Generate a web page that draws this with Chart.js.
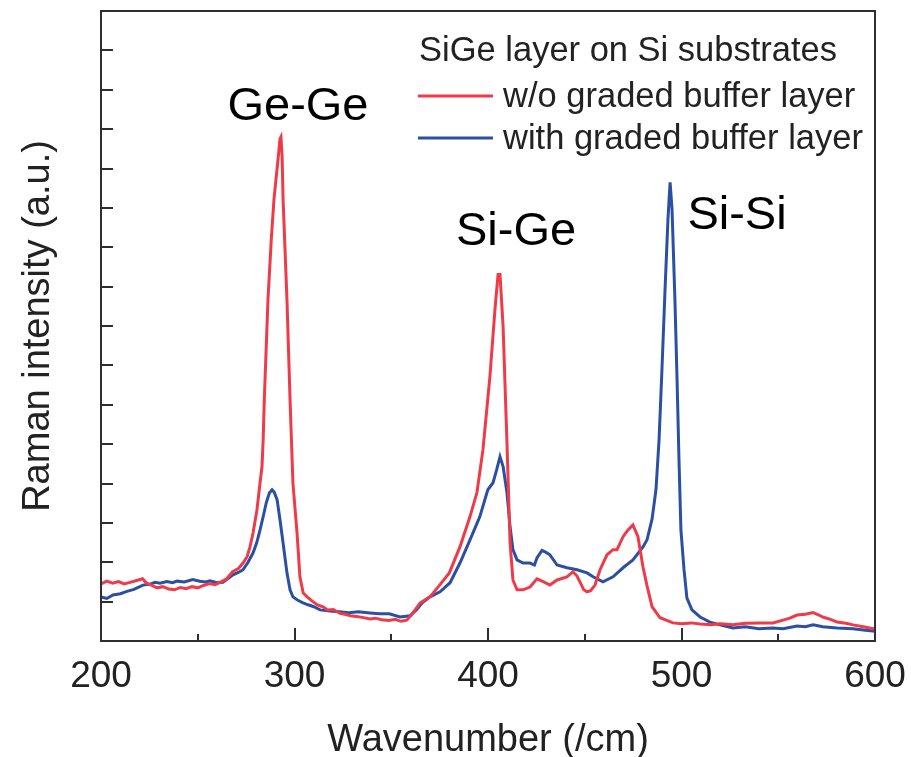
<!DOCTYPE html>
<html>
<head>
<meta charset="utf-8">
<script src="https://cdn.jsdelivr.net/npm/chart.js@4.4.0/dist/chart.umd.min.js"></script>
<style>
  html, body { margin: 0; padding: 0; background: #fff; }
  #wrap { width: 911px; height: 757px; }
</style>
</head>
<body>
<div id="wrap"><canvas id="ramanChart" width="911" height="757"></canvas></div>
<script>
// Raman spectra, wavenumber in /cm, intensity in arbitrary units
const redWavenumber = [200, 203, 206, 209, 212, 215, 218, 221.5, 223.5, 226, 229, 232, 235, 238, 241, 244, 247, 250, 253, 256, 259, 262, 265, 268, 271, 273.4, 275.5, 277, 278.6, 280.6, 282.2, 283.2, 283.8, 284.4, 286.3, 288, 289.4, 291.5, 292.5, 293, 293.6, 294.1, 296.1, 297.7, 299.2, 301.3, 302.8, 304.5, 306.5, 309, 311.7, 315, 317, 320, 323.5, 326, 329, 332, 335, 339, 342, 345, 349, 352, 355, 358, 360, 365, 370, 375, 380, 385.5, 390.7, 394.3, 397.4, 401, 403.6, 405.2, 406.2, 407.8, 409.8, 411.4, 412.9, 415, 418.1, 421.7, 425.3, 428, 432, 435.7, 440.8, 443.9, 446, 447.5, 449.5, 451.2, 453, 455.3, 457.9, 461.5, 464.6, 466.7, 469.8, 472, 474.9, 477.5, 480.1, 482.2, 484.8, 488.9, 495.6, 500, 505, 509.6, 515, 520, 526.6, 533, 540.6, 547.3, 552.5, 556, 559.7, 564, 568, 571, 573, 577, 580.4, 585, 588.6, 594, 599, 600];
const redIntensity = [1.45, 1.52, 1.47, 1.51, 1.45, 1.49, 1.53, 1.58, 1.47, 1.42, 1.35, 1.38, 1.32, 1.30, 1.36, 1.33, 1.38, 1.35, 1.41, 1.46, 1.43, 1.50, 1.58, 1.76, 1.84, 1.98, 2.14, 2.39, 2.75, 3.33, 4.02, 4.43, 5.10, 6.13, 8.68, 10.2, 11.22, 12.24, 12.75, 12.80, 12.3, 11.22, 8.68, 6.13, 4.00, 2.75, 1.63, 1.22, 1.12, 1.02, 0.92, 0.86, 0.79, 0.80, 0.70, 0.68, 0.64, 0.62, 0.60, 0.56, 0.58, 0.54, 0.52, 0.55, 0.50, 0.53, 0.64, 0.97, 1.12, 1.42, 1.73, 2.39, 3.16, 3.77, 4.86, 6.72, 8.42, 9.31, 9.31, 7.99, 5.04, 2.49, 1.55, 1.30, 1.30, 1.37, 1.58, 1.52, 1.42, 1.55, 1.63, 1.76, 1.65, 1.50, 1.30, 1.25, 1.28, 1.42, 1.81, 2.19, 2.32, 2.32, 2.65, 2.80, 2.95, 2.65, 1.88, 1.40, 0.87, 0.59, 0.46, 0.44, 0.46, 0.43, 0.41, 0.44, 0.41, 0.45, 0.46, 0.46, 0.53, 0.58, 0.66, 0.68, 0.72, 0.66, 0.61, 0.55, 0.48, 0.45, 0.41, 0.36, 0.31, 0.30];

const blueWavenumber = [200, 203, 206.2, 210, 213.4, 217, 221.7, 225, 228, 230.5, 234, 237, 239.3, 243, 247.5, 251, 254, 256.3, 260, 263, 266, 268.2, 271, 273.4, 276, 278.6, 280.5, 282.2, 284, 285.4, 287, 288.4, 289.5, 291, 292.5, 294.1, 296.1, 297.7, 299.2, 301.5, 304.4, 307, 310, 313.2, 318.3, 323, 328, 333, 339, 344, 349, 354.5, 359.7, 363, 366, 370, 375.2, 380.4, 385.5, 390.7, 395.8, 399.9, 402.6, 404.5, 406.2, 407.8, 409.8, 411.4, 412.9, 415, 418.1, 421.7, 424, 425.3, 427.9, 430, 432, 435.7, 440.8, 446, 451.2, 454.3, 459.4, 464.6, 469.8, 474.9, 480.1, 482.2, 484.8, 486.8, 488.4, 489.9, 491.5, 493, 494.1, 495.1, 496.6, 497.7, 498.7, 499.7, 501.3, 502.8, 505.4, 509.6, 514.7, 519.9, 526.6, 533, 540, 547, 552.5, 559.7, 564, 568, 573, 580.4, 588.6, 594, 600];
const blueIntensity = [1.12, 1.08, 1.17, 1.20, 1.26, 1.31, 1.42, 1.44, 1.49, 1.47, 1.51, 1.48, 1.52, 1.50, 1.56, 1.52, 1.50, 1.53, 1.48, 1.49, 1.60, 1.68, 1.74, 1.81, 2.00, 2.24, 2.50, 2.82, 3.20, 3.51, 3.76, 3.84, 3.78, 3.59, 3.08, 2.49, 1.73, 1.30, 1.12, 1.04, 0.97, 0.92, 0.87, 0.79, 0.76, 0.74, 0.72, 0.74, 0.71, 0.69, 0.69, 0.61, 0.64, 0.79, 0.97, 1.12, 1.25, 1.48, 1.98, 2.57, 3.16, 3.84, 4.02, 4.35, 4.68, 4.43, 3.77, 2.90, 2.32, 2.06, 1.98, 1.98, 1.93, 2.11, 2.30, 2.25, 2.19, 1.93, 1.86, 1.81, 1.73, 1.63, 1.50, 1.63, 1.86, 2.06, 2.39, 2.57, 3.10, 3.84, 5.10, 6.90, 8.93, 10.71, 11.65, 10.97, 8.68, 6.64, 4.61, 2.82, 1.81, 1.09, 0.79, 0.61, 0.48, 0.41, 0.33, 0.36, 0.31, 0.33, 0.31, 0.38, 0.36, 0.41, 0.36, 0.33, 0.31, 0.28, 0.25];

const seriesLabels = ["w/o graded buffer layer", "with graded buffer layer"];
const legendTitle = "SiGe layer on Si substrates";
const xTickValues = [200, 300, 400, 500, 600];
const peakNames = ["Ge-Ge", "Si-Ge", "Si-Si"];

const FONT = "'Liberation Sans', Arial, sans-serif";
const INK = "#222";
const RED = "#ee3b47";
const BLUE = "#2b50a3";

function toPoints(xs, ys) {
    return xs.map((x, i) => ({ x: x, y: ys[i] }));
}

// box around the plot plus inward tick marks
const framePlugin = {
    id: "frame",
    afterDatasetsDraw(chart) {
        const { ctx, chartArea: a, scales } = chart;
        ctx.save();
        ctx.strokeStyle = "#2e2e2e";
        ctx.lineWidth = 2;
        ctx.strokeRect(a.left, a.top, a.right - a.left, a.bottom - a.top);
        ctx.beginPath();
        for (let v = 250; v < 600; v += 50) {
            const px = Math.round(scales.x.getPixelForValue(v));
            const len = v % 100 === 0 ? 13 : 7;
            ctx.moveTo(px, a.bottom);
            ctx.lineTo(px, a.bottom - len);
        }
        for (let v = 1; v < 16; v++) {
            const py = Math.round(scales.y.getPixelForValue(v));
            ctx.moveTo(a.left, py);
            ctx.lineTo(a.left + 12, py);
        }
        ctx.stroke();
        ctx.restore();
    }
};

// peak names and the legend block
const notesPlugin = {
    id: "notes",
    afterDraw(chart) {
        const { ctx, scales } = chart;
        const x = scales.x, y = scales.y;
        ctx.save();
        ctx.fillStyle = "#000";
        ctx.font = "47px " + FONT;
        ctx.textAlign = "center";
        ctx.textBaseline = "alphabetic";
        const spots = [[301.8, 13.23], [414.5, 10.05], [528.7, 10.46]];
        peakNames.forEach((name, i) => {
            ctx.fillText(name, x.getPixelForValue(spots[i][0]), y.getPixelForValue(spots[i][1]));
        });

        ctx.fillStyle = INK;
        ctx.font = "34.5px " + FONT;
        ctx.textAlign = "left";
        ctx.fillText(legendTitle, 419, 61);
        chart.data.datasets.forEach((ds, i) => {
            const ly = 96 + i * 42;
            ctx.strokeStyle = ds.borderColor;
            ctx.lineWidth = 3;
            ctx.beginPath();
            ctx.moveTo(418, ly);
            ctx.lineTo(493, ly);
            ctx.stroke();
            ctx.textBaseline = "middle";
            ctx.fillText(ds.label, 503, ly + 1);
        });
        ctx.restore();
    }
};

const chart = new Chart(document.getElementById("ramanChart").getContext("2d"), {
    type: "line",
    data: {
        datasets: [{
            label: seriesLabels[0],
            data: toPoints(redWavenumber, redIntensity),
            borderColor: RED,
            borderWidth: 3,
            pointRadius: 0,
            tension: 0
        }, {
            label: seriesLabels[1],
            data: toPoints(blueWavenumber, blueIntensity),
            borderColor: BLUE,
            borderWidth: 3,
            pointRadius: 0,
            tension: 0
        }]
    },
    options: {
        responsive: false,
        animation: false,
        layout: { padding: { top: 11, right: 36, left: 0, bottom: 0 } },
        plugins: {
            legend: { display: false },
            tooltip: { enabled: false }
        },
        scales: {
            x: {
                type: "linear",
                min: 200,
                max: 600,
                afterBuildTicks: (s) => { s.ticks = xTickValues.map((v) => ({ value: v })); },
                afterFit: (s) => { s.height = 116; s.paddingLeft = 0; s.paddingRight = 0; },
                grid: { display: false },
                border: { display: false },
                ticks: {
                    color: INK,
                    padding: 6,
                    maxRotation: 0,
                    font: { family: FONT, size: 37 }
                },
                title: {
                    display: true,
                    text: "Wavenumber (/cm)",
                    color: INK,
                    padding: { top: 0, bottom: -3 },
                    font: { family: FONT, size: 38, lineHeight: 1 }
                }
            },
            y: {
                min: 0,
                max: 16,
                afterFit: (s) => { s.width = 101; },
                grid: { display: false },
                border: { display: false },
                ticks: { display: false, stepSize: 1 },
                title: {
                    display: true,
                    text: "Raman intensity (a.u.)",
                    color: INK,
                    padding: { top: 20, bottom: 0 },
                    font: { family: FONT, size: 38, lineHeight: 1 }
                }
            }
        }
    },
    plugins: [framePlugin, notesPlugin]
});
</script>
</body>
</html>
